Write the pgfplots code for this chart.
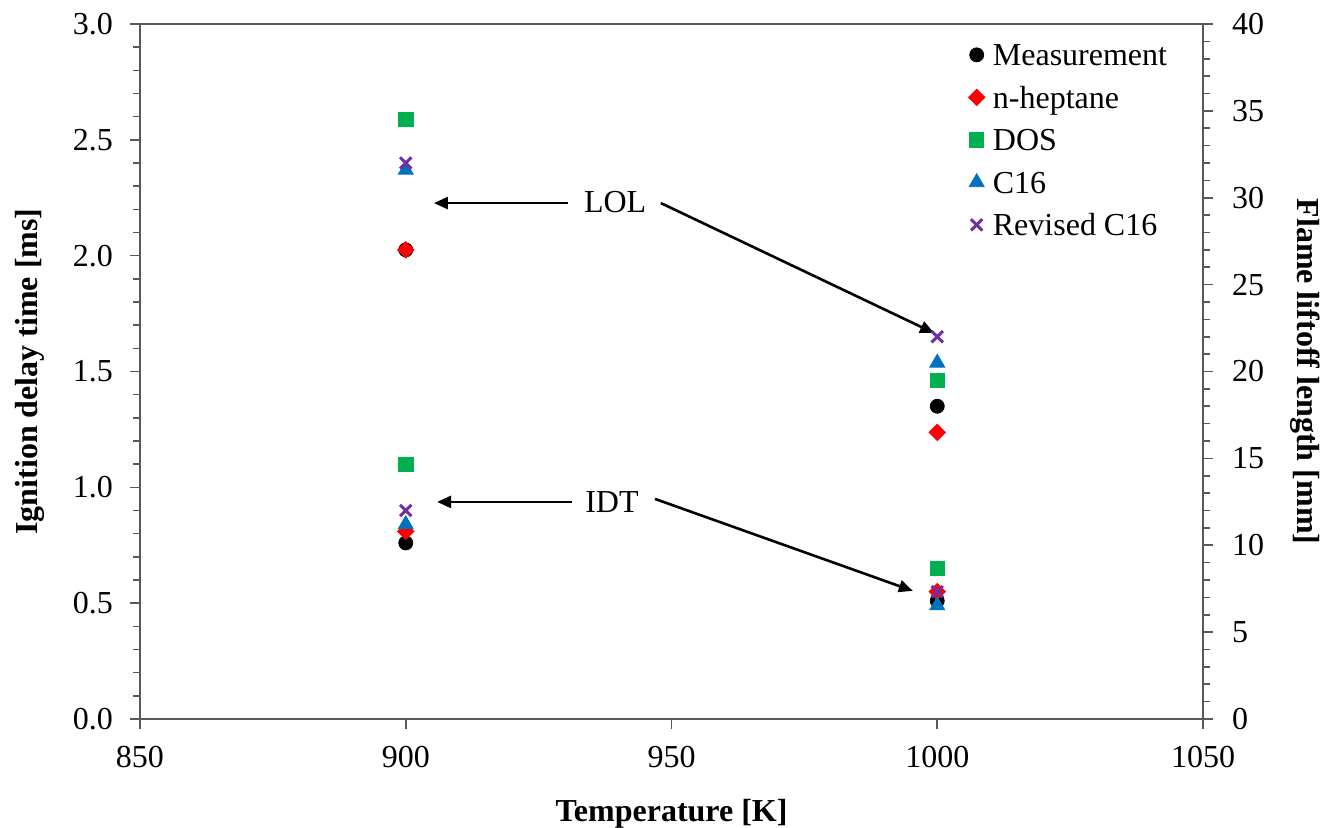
\documentclass[border=0pt]{standalone}
\usepackage{fontspec}
\setmainfont{Liberation Serif}
\usepackage{pgfplots}
\pgfplotsset{compat=1.18}
\usetikzlibrary{arrows.meta}
\definecolor{meas}{RGB}{0,0,0}
\definecolor{hep}{RGB}{255,0,0}
\definecolor{dos}{RGB}{0,176,80}
\definecolor{csx}{RGB}{0,112,192}
\definecolor{rev}{RGB}{112,48,160}
\definecolor{axgray}{RGB}{89,89,89}
\newcommand{\fs}{\fontsize{16}{19}\selectfont}
\pgfplotsset{
  base/.style={scale only axis, width=531.5pt, height=347.5pt,
    xmin=850, xmax=1050,
    tick label style={font=\fs, color=black},
    /pgf/number format/assume math mode=true,
    axis line style={color=axgray, line width=0.8pt},
    tick style={color=axgray, line width=0.8pt},
    major tick length=5pt, minor tick length=3.5pt,
    tick align=outside,
    label style={font=\bfseries\fs},
  },
  smeas/.style={only marks, color=meas, mark=*, mark size=3.5pt},
  shep/.style={only marks, color=hep, mark=square*, mark size=2.9pt, mark options={rotate=45}},
  sdos/.style={only marks, color=dos, mark=square*, mark size=3.6pt},
  scs/.style={only marks, color=csx, mark=triangle*, mark size=4.3pt},
  srev/.style={only marks, color=rev, mark=x, mark size=4pt, mark options={line width=1.5pt}},
}
\begin{document}
\begin{tikzpicture}
\begin{axis}[base,
  axis x line*=bottom, axis y line*=left,
  ymin=0, ymax=3,
  ytick={0,0.5,1,1.5,2,2.5,3}, minor y tick num=4,
  xtick={850,900,950,1000,1050},
  yticklabel style={xshift=-5pt, /pgf/number format/.cd, fixed, fixed zerofill, precision=1},
  xticklabel style={yshift=-5pt, /pgf/number format/.cd, fixed, set thousands separator={}},
  xlabel={Temperature [K]},
  ylabel={Ignition delay time [ms]},
  xlabel style={at={(axis description cs:0.5,-0.137)}, anchor=center},
  ylabel style={at={(axis description cs:-0.1035,0.5)}, anchor=center},
  clip=false,
]
\addplot[smeas] coordinates {(900,0.76) (1000,0.51)};
\addplot[shep] coordinates {(900,0.81) (1000,0.55)};
\addplot[sdos] coordinates {(900,1.10) (1000,0.65)};
\addplot[scs] coordinates {(900,0.84) (1000,0.49)};
\addplot[srev] coordinates {(900,0.90) (1000,0.55)};
\draw[axgray, line width=0.8pt] (rel axis cs:0,1) -- (rel axis cs:1,1);
\draw[black, line width=1.3pt, -{Triangle[length=7pt,width=6pt]}] (axis cs:930.5,2.227) -- (axis cs:905.3,2.227);
\draw[black, line width=1.3pt, -{Triangle[length=7pt,width=6pt]}] (axis cs:948.0,2.227) -- (axis cs:999.4,1.666);
\draw[black, line width=1.3pt, -{Triangle[length=7pt,width=6pt]}] (axis cs:931.3,0.937) -- (axis cs:905.9,0.937);
\draw[black, line width=1.3pt, -{Triangle[length=7pt,width=6pt]}] (axis cs:946.9,0.950) -- (axis cs:995.4,0.553);
\node[font=\fs] at (axis cs:939.4,2.232) {LOL};
\node[font=\fs] at (axis cs:938.8,0.937) {IDT};
\end{axis}
\begin{axis}[base,
  axis x line=none, axis y line*=right,
  ymin=0, ymax=40,
  ytick={0,5,10,15,20,25,30,35,40}, minor y tick num=4,
  yticklabel style={xshift=6pt},
  ylabel={Flame liftoff length [mm]},
  ylabel style={at={(axis description cs:1.096,0.5)}, anchor=center, rotate=180},
  legend style={at={(axis description cs:0.779,0.972)}, anchor=north west,
    draw=none, fill=none, inner sep=0pt, font=\fs, row sep=7.25pt,
    nodes={inner xsep=4pt, inner ysep=0pt, text height=11pt, text depth=3pt}},
  legend cell align=left,
  legend image code/.code={\path[draw=none] (-4pt,0pt) (4pt,0pt); \draw[#1] plot coordinates {(0pt,1.5pt)};},
  clip=false,
]
\addplot[smeas] coordinates {(900,27) (1000,18)};
\addlegendentry{Measurement}
\addplot[shep] coordinates {(900,27) (1000,16.5)};
\addlegendentry{n-heptane}
\addplot[sdos] coordinates {(900,34.5) (1000,19.5)};
\addlegendentry{DOS}
\addplot[scs] coordinates {(900,31.6) (1000,20.5)};
\addlegendentry{C16}
\addplot[srev] coordinates {(900,32) (1000,22)};
\addlegendentry{Revised C16}
\end{axis}
\pgfresetboundingbox
\useasboundingbox (-70pt,-54.5pt) rectangle (591pt,359.5pt);
\end{tikzpicture}
\end{document}
